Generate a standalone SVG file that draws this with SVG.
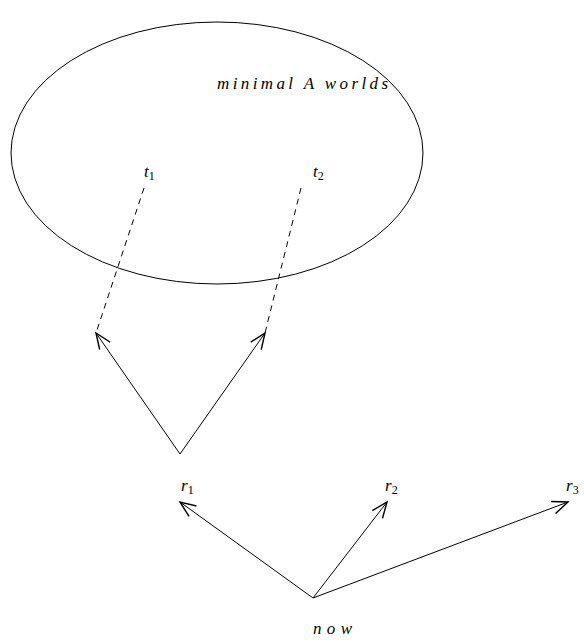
<svg xmlns="http://www.w3.org/2000/svg" width="584" height="642" viewBox="0 0 584 642">
<style>
.ln{stroke:#000;stroke-width:1;fill:none}
.d{stroke-dasharray:6,5}
.t{font-family:"Liberation Serif","DejaVu Serif",serif;font-style:italic;font-size:17px;fill:#000}
.s{font-style:normal;font-size:12px}
</style>
<defs>
<marker id="ah" markerUnits="userSpaceOnUse" markerWidth="20" markerHeight="20" refX="0" refY="0" viewBox="-12 -6 14 12" orient="auto" overflow="visible">
<path d="M-11,-4.5 L0,0 L-11,4.5" stroke="#000" stroke-width="1" fill="none"/>
</marker>
</defs>
<rect width="584" height="642" fill="#fff"/>
<g id="minimal-worlds">
<ellipse class="ln" cx="217" cy="153" rx="206" ry="131"/>
<text class="t" x="217" y="89" textLength="171" lengthAdjust="spacing">minimal A worlds</text>
</g>
<g id="t1"><text class="t" x="144" y="177">t<tspan class="s" dy="3">1</tspan></text></g>
<g id="t2"><text class="t" x="313" y="177">t<tspan class="s" dy="3">2</tspan></text></g>
<g id="r1"><text class="t" x="181" y="491">r<tspan class="s" dy="3">1</tspan></text></g>
<g id="r2"><text class="t" x="385" y="491">r<tspan class="s" dy="3">2</tspan></text></g>
<g id="r3"><text class="t" x="566" y="491">r<tspan class="s" dy="3">3</tspan></text></g>
<g id="now"><text class="t" x="313" y="634" textLength="39" lengthAdjust="spacing">now</text></g>
<g id="connectors">
<line class="ln d" x1="144" y1="188" x2="96" y2="333"/>
<line class="ln d" x1="301" y1="188" x2="265" y2="333"/>
<line class="ln" x1="180" y1="454" x2="96" y2="333" marker-end="url(#ah)"/>
<line class="ln" x1="180" y1="454" x2="265" y2="333" marker-end="url(#ah)"/>
<line class="ln" x1="313" y1="598" x2="180" y2="502" marker-end="url(#ah)"/>
<line class="ln" x1="313" y1="598" x2="387" y2="502" marker-end="url(#ah)"/>
<line class="ln" x1="313" y1="598" x2="568" y2="502" marker-end="url(#ah)"/>
</g>
</svg>
